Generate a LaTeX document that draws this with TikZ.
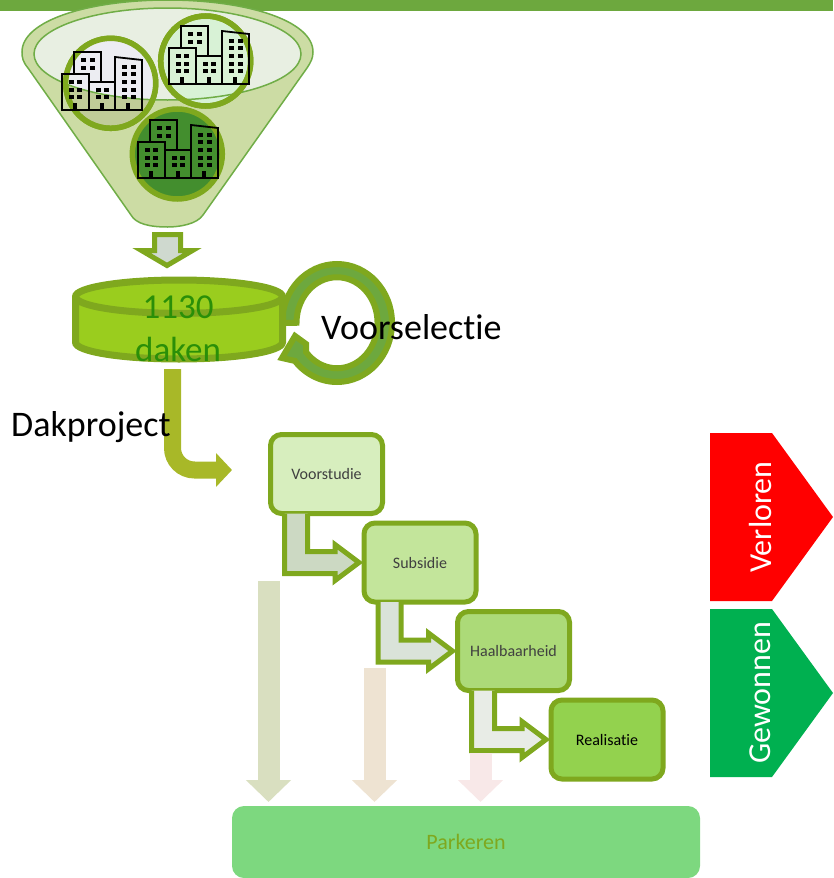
\documentclass[tikz,border=0pt]{standalone}
\usepackage{fontspec}
\setmainfont{Carlito}[Ligatures=NoCommon]
\usetikzlibrary{arrows.meta, positioning, shapes.geometric, shadows, calc}

\definecolor{barGreen}{HTML}{6DA83E}
\definecolor{ringGreen}{HTML}{7FA81E}
\definecolor{funnelGreen}{HTML}{CCDCA4}
\definecolor{funnelRim}{HTML}{70AD47}

\tikzset{
  citypic/.pic={
    \draw[black, line width=1.8pt, line join=miter]
      (0,22) -- (27,22) -- (27,58) -- (0,58) -- cycle
      (12,22) -- (12,0) -- (39,0) -- (39,30)
      (27,30) -- (53,30) -- (53,58) -- (27,58)
      (53,58) -- (53,5) -- (80,8) -- (80,58) -- cycle;
    \foreach \wx/\wy in {21/8, 30/8, 21/16, 30/16,
                         9/30, 17/30, 9/38, 17/38, 9/45, 17/45,
                         36/38, 44/38, 36/45, 44/45,
                         62/15, 71/15, 62/22, 71/22, 62/30, 71/30, 62/38, 71/38, 62/45, 71/45}
      \fill[black] (\wx-2.5,\wy-2) rectangle (\wx+2.5,\wy+2);
    \foreach \wx in {13, 40, 66}
      \fill[black] (\wx-2,51) rectangle (\wx+2,58);
  }
}

\begin{document}
\begin{tikzpicture}[x=1pt, y=-1pt,
  citycircle/.style={circle, draw=ringGreen, line width=5.5pt, minimum size=90pt, inner sep=0pt},
  stagebox/.style={draw=ringGreen, line width=5pt, rounded corners=11pt, outer sep=0pt,
    minimum width=112pt, minimum height=79pt, inner sep=0pt, text=black!75,
    font=\fontsize{16}{19}\selectfont},
  stagearrow/.style={draw=ringGreen, line width=5pt, line join=miter},
  fadearrow/.style={line width=22pt, -{Triangle[length=22pt,width=44pt]}},
  bigtext/.style={font=\fontsize{36}{44}\selectfont, inner sep=0pt},
  uitkomsttext/.style={rotate=90, text=white, font=\fontsize{32}{38}\selectfont}]

  \useasboundingbox (0,0) rectangle (833,878);
  \fill[barGreen] (0,0) rectangle (833,11);

  % trechter
  \draw[funnelRim, fill=funnelGreen, line width=1.5pt]
    (22,52) .. controls (22,20) and (90,0) .. (167.5,0)
            .. controls (245,0) and (313,20) .. (313,52)
            .. controls (313,58) and (311,62) .. (307,68) -- (203,215)
            .. controls (197,224) and (180,227) .. (167.5,227)
            .. controls (150,227) and (136,224) .. (131,215) -- (28,68)
            .. controls (23,62) and (22,58) .. (22,52) -- cycle;
  \definecolor{funnelTop}{HTML}{E8EFE2}
  \node[ellipse, fill=funnelTop, minimum width=267pt, minimum height=92pt, inner sep=0pt] (funneltop) at (167.5,54) {};

  \definecolor{cityOneLow}{HTML}{C0CC98}
  \definecolor{cityOneHigh}{HTML}{ECEDF2}
  \definecolor{cityTwoFill}{HTML}{D8F2D6}
  \definecolor{cityThreeFill}{HTML}{438E2E}
  \node[citycircle, fill=cityOneLow] (cityone) at (110.7,83.3) {};
  \begin{scope}
    \clip (funneltop.center) ellipse [x radius=133.5pt, y radius=46pt];
    \fill[cityOneHigh] (cityone) circle [radius=43pt];
  \end{scope}
  \node[citycircle, fill=cityTwoFill] (citytwo) at (205.7,61) {};
  \node[citycircle, fill=cityThreeFill] (citythree) at (177.3,154) {};
  \draw[funnelRim, line width=1.5pt] (funneltop.center) ellipse [x radius=133.5pt, y radius=46pt];
  \draw[ringGreen, line width=5.5pt] (cityone) circle [radius=45pt];
  \draw[ringGreen, line width=5.5pt] (citytwo) circle [radius=45pt];

  \pic at (62,52) {citypic};
  \pic at (169,26) {citypic};
  \pic at (138,120) {citypic};

  % kringloop achter de bak
  \draw[draw=ringGreen, fill=barGreen, line width=6pt, line join=miter]
    (282,323) arc [start angle=180, end angle=-140, x radius=55pt, y radius=59pt]
    -- (282,358) -- (295,336) -- (306,344) -- (306,352)
    arc [start angle=-140, end angle=180, x radius=40.5pt, y radius=45.5pt] -- cycle;

  % de bak
  \definecolor{dakFill}{HTML}{9ACD1E}
  \node[cylinder, shape border rotate=90, shape aspect=5, anchor=south, draw=ringGreen, line width=7pt,
        fill=dakFill, minimum width=207pt, minimum height=79pt, outer sep=0pt,
        drop shadow={shadow xshift=0pt, shadow yshift=-3pt, opacity=.4}]
        (dakenpool) at (179,359) {};
  \definecolor{dakText}{HTML}{2A8F08}
  \node[bigtext, text=dakText, align=center, font=\fontsize{35}{43}\selectfont] (dakentext) at (178,329) {1130\\daken};
  \node[bigtext, anchor=west] (voorselectie) at (321,327) {Voorselectie};

  % trechter naar bak
  \coordinate (funnelneck) at (167.5,234.5);
  \definecolor{neckFill}{HTML}{CFD9CF}
  \draw[stagearrow, fill=neckFill]
    ([xshift=-13pt]funnelneck) -- ++(26,0) -- ++(0,16) -- ++(12,0) -- ++(-25.5,15) -- ++(-25.5,-15) -- ++(13,0) -- cycle;

  % stappen
  \definecolor{voorstudieFill}{HTML}{D7EEBE}
  \definecolor{subsidieFill}{HTML}{C3E59B}
  \definecolor{haalbaarFill}{HTML}{ACDA78}
  \definecolor{realisatieFill}{HTML}{93D24E}
  \node[stagebox, fill=voorstudieFill] (voorstudie) at (326.5,474) {Voorstudie};
  \node[stagebox, fill=subsidieFill, below right=9.5pt and -18.5pt of voorstudie] (subsidie) {Subsidie};
  \node[stagebox, fill=haalbaarFill, below right=9.5pt and -18.5pt of subsidie] (haalbaarheid) {Haalbaarheid};
  \node[stagebox, fill=realisatieFill, text=black, below right=9.5pt and -18.5pt of haalbaarheid] (realisatie) {Realisatie};

  \foreach \from/\to/\stagefill in {voorstudie/subsidie/CCD9C3, subsidie/haalbaarheid/DAE3D9, haalbaarheid/realisatie/E8ECE6}{
    \definecolor{stagefill}{HTML}{\stagefill}
    \draw[stagearrow, fill=stagefill]
      ([xshift=14pt]\from.south west) |- ([xshift=-29pt,yshift=-11pt]\to.west)
      -- ++(0,7) -- ([xshift=-5pt]\to.west) -- ++(-24,-18) -- ++(0,7)
      -| ([xshift=37pt]\from.south west);
  }

  % parkeren
  \definecolor{parkerenFill}{HTML}{7DD87F}
  \node[fill=parkerenFill, rounded corners=12pt, minimum width=468pt, minimum height=72pt,
        outer sep=0pt, text=ringGreen, font=\fontsize{22}{26}\selectfont] (parkeren) at (466,842) {Parkeren};

  \coordinate (fadeone) at (268.5,581);
  \coordinate (fadetwo) at (374.5,668);
  \coordinate (fadethree) at (480.5,753);
  \definecolor{fadeonecol}{HTML}{D9DFC0}
  \definecolor{fadetwocol}{HTML}{EEE3D2}
  \definecolor{fadethreecol}{HTML}{F8E8E8}
  \draw[fadearrow, draw=fadeonecol] (fadeone) -- ([yshift=4pt]fadeone |- parkeren.north);
  \draw[fadearrow, draw=fadetwocol] (fadetwo) -- ([yshift=4pt]fadetwo |- parkeren.north);
  \draw[fadearrow, draw=fadethreecol] (fadethree) -- ([yshift=4pt]fadethree |- parkeren.north);

  % dakproject
  \coordinate (dakend) at (232,470);
  \definecolor{dakolive}{HTML}{A8B828}
  \draw[draw=dakolive, line width=17pt, rounded corners=22pt, -{Triangle[length=16pt,width=33pt]}]
    ([xshift=-6.5pt,yshift=-10pt]dakenpool.south) |- (dakend);
  \node[bigtext, anchor=west] (dakproject) at (11,427) {Dakproject};

  % uitkomst
  \definecolor{uitkomstgreen}{HTML}{00B050}
  \fill[red] (710,433) -- (772,433) -- (833,517) -- (772,601) -- (710,601) -- cycle;
  \fill[uitkomstgreen] (710,609) -- (772,609) -- (833,693) -- (772,777) -- (710,777) -- cycle;
  \node[uitkomsttext] (verloren) at (760,517) {Verloren};
  \node[uitkomsttext] (gewonnen) at (760,693) {Gewonnen};
\end{tikzpicture}
\end{document}
